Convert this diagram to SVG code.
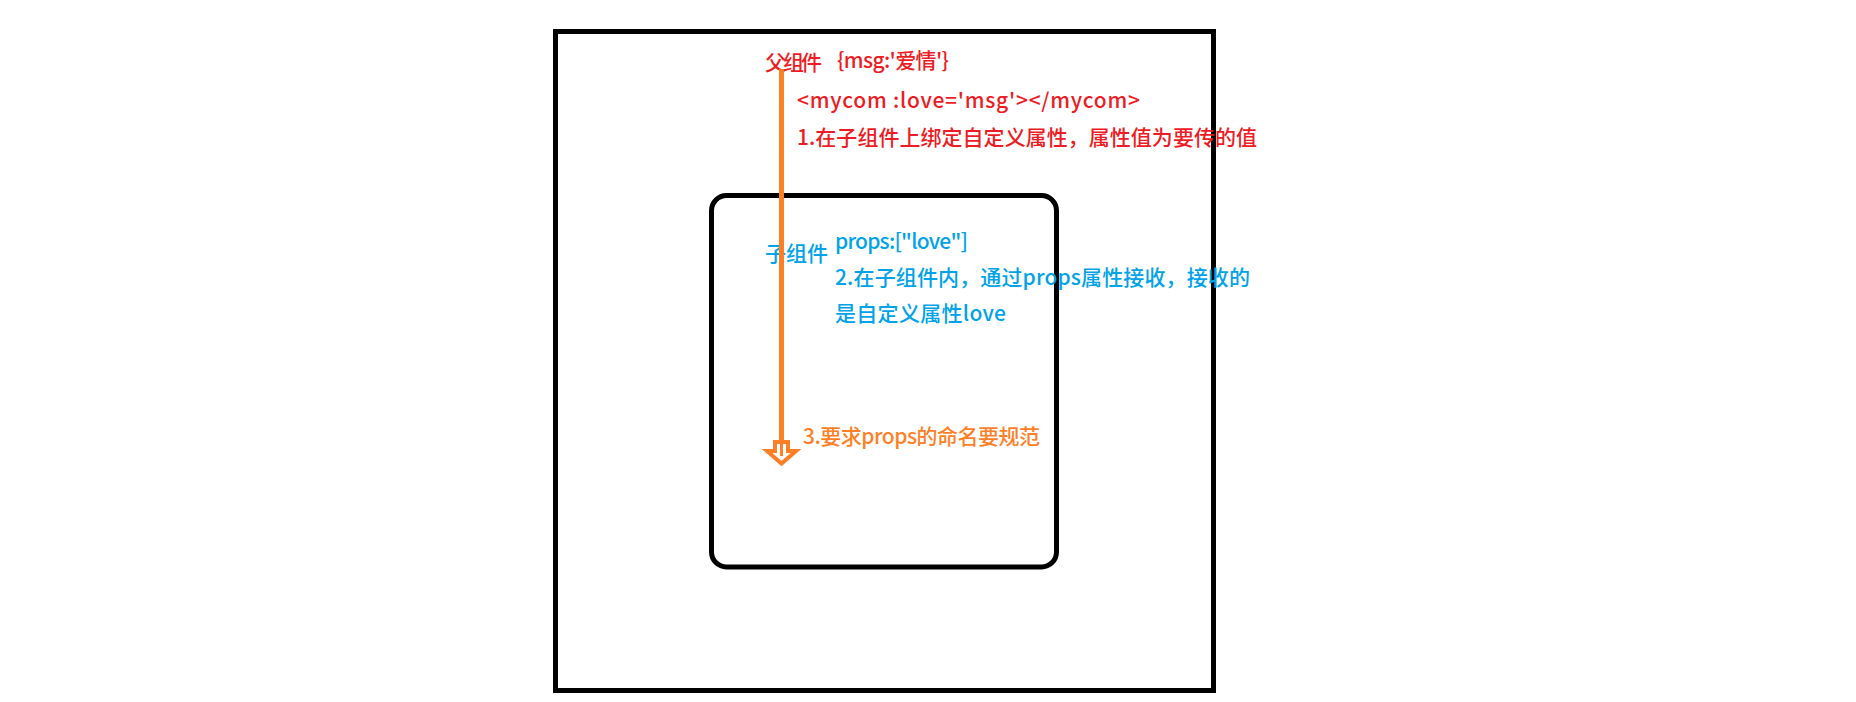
<svg xmlns="http://www.w3.org/2000/svg" width="1856" height="702" viewBox="0 0 1856 702">
<style>
.box{fill:none;stroke:#000;stroke-width:5}
.t{font-family:"Microsoft YaHei","Noto Sans CJK SC","Noto Sans",sans-serif;font-size:21px;font-weight:500}
.red{fill:#ED1C24}
.blue{fill:#00A2E8}
.orange{fill:#FF7F27}
</style>
<rect width="1856" height="702" fill="#fff"/>
<g id="parent">
<rect class="box" x="555.5" y="31.5" width="658" height="659"/>
<text class="t red" x="765" y="70" font-size="20" textLength="57">父组件</text>
<text class="t red" x="837" y="68" font-size="20" textLength="112">{msg:'爱情'}</text>
<text class="t red" x="797" y="108" textLength="343">&lt;mycom :love='msg'&gt;&lt;/mycom&gt;</text>
<text class="t red" x="797" y="145" textLength="460">1.在子组件上绑定自定义属性，属性值为要传的值</text>
</g>
<g id="child">
<rect class="box" x="711.5" y="195.5" width="345" height="371.5" rx="15" ry="15"/>
<text class="t blue" x="765" y="261" textLength="63">子组件</text>
<text class="t blue" x="835" y="249" textLength="133">props:["love"]</text>
<text class="t blue" x="835" y="285" textLength="415">2.在子组件内，通过props属性接收，接收的</text>
<text class="t blue" x="835" y="321" textLength="171">是自定义属性love</text>
</g>
<g id="connectors">
<line x1="781.5" y1="69" x2="781.5" y2="443" stroke="#FF7F27" stroke-width="5"/>
<path d="M775,442 H788 V451 H796 L781.5,463.5 L767,451 H775 Z" fill="#fff" stroke="#FF7F27" stroke-width="4" stroke-linejoin="miter"/>
<line x1="781.5" y1="440" x2="781.5" y2="456" stroke="#FF7F27" stroke-width="3"/>
</g>
<g id="note3">
<text class="t orange" x="803" y="444" textLength="237">3.要求props的命名要规范</text>
</g>
</svg>
